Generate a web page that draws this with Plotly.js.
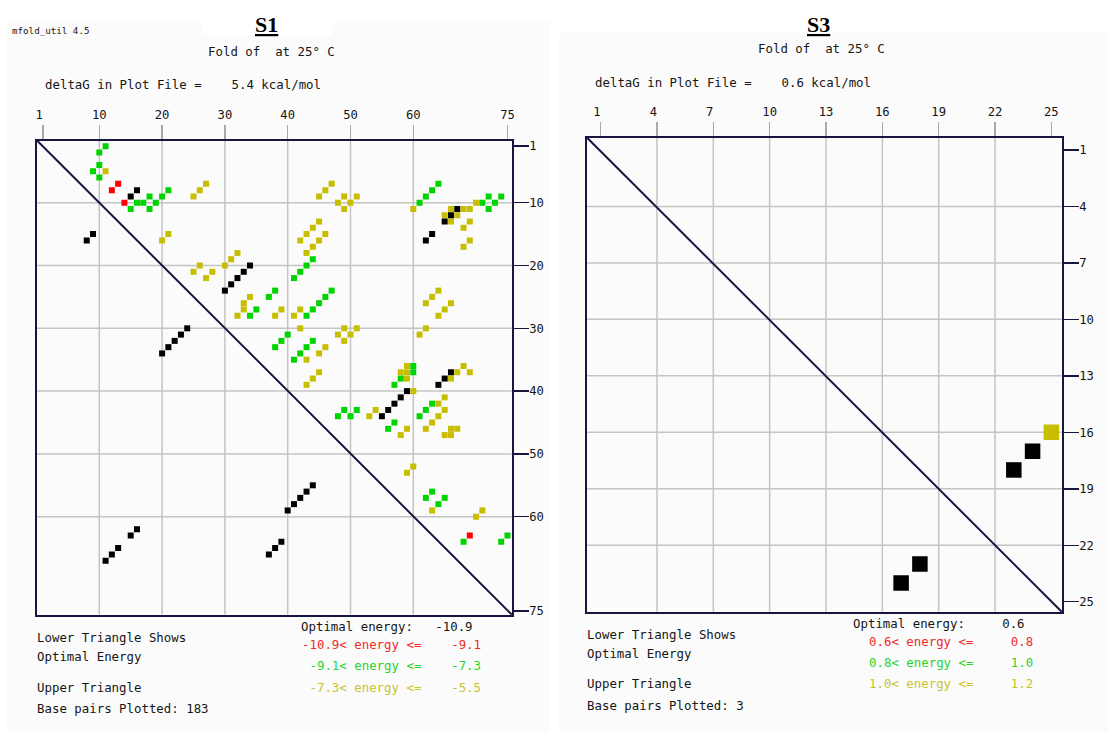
<!DOCTYPE html>
<html>
<head>
<meta charset="utf-8">
<script src="https://cdn.plot.ly/plotly-3.0.1.min.js"></script>
<style>html,body{margin:0;padding:0;background:#fff;}#plot{width:1114px;height:736px;}</style>
</head>
<body>
<div id="plot"></div>
<script>
// ---------- tick labels / grid positions ----------
const s1Ticks = [1, 10, 20, 30, 40, 50, 60, 75];
const s1Grid = [10, 20, 30, 40, 50, 60];
const s3Ticks = [1, 4, 7, 10, 13, 16, 19, 22, 25];
const s3Grid = [4, 7, 10, 13, 16, 19, 22];

// ---------- S1 base pairs (J = column / x, I = row / y) ----------
const s1OptUpperJ = [16,15,67,66,65,63,62,34,33,32,31,30,66,65,64,59,58,57,56,55];
const s1OptUpperI = [8,9,11,12,13,15,16,20,21,22,23,24,37,38,39,40,41,42,43,44];
const s1OptLowerJ = [9,8,24,23,22,21,20,44,43,42,41,40,16,15,13,12,11,39,38,37];
const s1OptLowerI = [15,16,30,31,32,33,34,55,56,57,58,59,62,63,65,66,67,64,65,66];
const s1RedJ = [13,12,14,69];
const s1RedI = [7,8,10,63];
const s1GreenJ = [11,10,10,9,10,16,17,18,19,20,21,15,18, 37,38,35,34, 44,43,42,41, 43,44,45,46,47, 64,63,62,61, 71,72,73,74,72, 40,39,38,44,43,42,41, 49,51,48,50, 60,60,58,57, 57,56, 63,62,61, 63,62,65,64, 68,75,74];
const s1GreenI = [1,2,4,5,6,10,10,9,10,9,8,11,11, 25,24,27,28, 19,20,21,22, 28,27,26,25,24, 7,8,9,10, 10,9,10,9,11, 31,32,33,32,33,34,35, 43,43,44,44, 36,37,38,39, 45,46, 42,43,44, 56,57,57,58, 64,63,64];
const s1YellowJ = [11, 27,26,25, 21,20, 32,31,30,26,25,28,27, 34,33,33,32, 38,39,41,42, 47,46,45,49,51,48,50,49, 45,44,43,42,46,45,44,43, 60,66,68,69,70, 65,67,66,69,68,69,68, 64,63,62,66,65,64, 42,49,51,48,50,49, 62,61, 46,45,43, 45,44,43, 59,58,59,59,60, 54,53, 59,58, 67,68,69,66, 65,64,65,64,63,62,66,67,65,66, 60,59, 63,71,70];
const s1YellowI = [5, 7,8,9, 15,16, 18,19,20,20,21,21,22, 25,26,27,28, 28,27,28,27, 7,8,9,9,9,10,10,11, 13,14,15,16,15,16,17,18, 11,11,11,11,10, 12,12,13,13,14,16,17, 24,25,26,26,27,28, 30,30,30,31,31,32, 30,31, 33,34,35, 37,38,39, 36,37,37,38,40, 43,44, 46,47, 37,36,37,38, 41,42,43,44,45,46,46,46,47,47, 52,53, 59,59,60];

// ---------- S3 base pairs ----------
const s3OptUpperJ = [24,23];
const s3OptUpperI = [17,18];
const s3OptLowerJ = [18,17];
const s3OptLowerI = [23,24];
const s3YellowJ = [25];
const s3YellowI = [16];

// ---------- styling ----------
const W = 1114, H = 736;
const MONO = 'DejaVu Sans Mono';
const NAVY = '#161640';
const C_BLACK = '#000000', C_RED = '#ff0000', C_GREEN = '#00d400', C_YELLOW = '#c8be00';
const T_RED = '#f02a2a', T_GREEN = '#2ad42a', T_YELLOW = '#c8c42a', T_DARK = '#151515';
const px = x => x / W;
const py = y => 1 - y / H;
const nb = s => s.replace(/ /g, '\u00a0');
// top labels are left-set like two-character fields
const topLabel = v => (v < 10 ? v + '\u00a0' : String(v));

function pts(xs, ys, color, size, xa, ya) {
  return {type: 'scatter', mode: 'markers', x: xs, y: ys, xaxis: xa, yaxis: ya,
    marker: {symbol: 'square', size: size, color: color, line: {width: 0}},
    hoverinfo: 'x+y', showlegend: false};
}

const traces = [
  pts(s1YellowJ, s1YellowI, C_YELLOW, 6, 'x', 'y'),
  pts(s1GreenJ, s1GreenI, C_GREEN, 6, 'x', 'y'),
  pts(s1RedJ, s1RedI, C_RED, 6, 'x', 'y'),
  pts(s1OptUpperJ, s1OptUpperI, C_BLACK, 6, 'x', 'y'),
  pts(s1OptLowerJ, s1OptLowerI, C_BLACK, 6, 'x', 'y'),
  pts(s3YellowJ, s3YellowI, C_YELLOW, 15.5, 'x2', 'y2'),
  pts(s3OptUpperJ, s3OptUpperI, C_BLACK, 15.5, 'x2', 'y2'),
  pts(s3OptLowerJ, s3OptLowerI, C_BLACK, 15.5, 'x2', 'y2')
];

function xAx(domain, range, ticks, anchor) {
  return {domain: domain, range: range, anchor: anchor, side: 'top',
    tickmode: 'array', tickvals: ticks, ticktext: ticks.map(topLabel),
    ticks: 'outside', ticklen: 14, tickwidth: 1.5, tickcolor: '#a8a8a8',
    ticklabelstandoff: 1,
    showgrid: false, zeroline: false, showline: true, mirror: true,
    linecolor: NAVY, linewidth: 2,
    tickfont: {family: MONO, size: 12.2, color: T_DARK}, fixedrange: true};
}
function yAx(domain, range, ticks, anchor) {
  return {domain: domain, range: range, anchor: anchor, side: 'right',
    tickmode: 'array', tickvals: ticks, ticktext: ticks.map(String),
    ticks: 'outside', ticklen: 15, tickwidth: 1.5, tickcolor: NAVY,
    ticklabelstandoff: -2,
    showgrid: false, zeroline: false, showline: true, mirror: true,
    linecolor: NAVY, linewidth: 2,
    tickfont: {family: MONO, size: 12.2, color: T_DARK}, fixedrange: true};
}

const shapes = [
  // panels
  {type: 'rect', xref: 'paper', yref: 'paper', x0: px(7), x1: px(549), y0: py(733), y1: py(22), fillcolor: '#fbfbfb', line: {width: 0}, layer: 'below'},
  {type: 'rect', xref: 'paper', yref: 'paper', x0: px(559), x1: px(1108), y0: py(733), y1: py(33), fillcolor: '#fbfbfb', line: {width: 0}, layer: 'below'},
  {type: 'rect', xref: 'paper', yref: 'paper', x0: px(203), x1: px(332), y0: py(35), y1: py(0), fillcolor: '#ffffff', line: {width: 0}, layer: 'below'}
];
function grid(vals, xa, ya) {
  vals.forEach(v => {
    shapes.push({type: 'line', xref: xa, yref: ya + ' domain', x0: v, x1: v, y0: 0, y1: 1, line: {color: '#c4c4c4', width: 1.5}, layer: 'below'});
    shapes.push({type: 'line', xref: xa + ' domain', yref: ya, x0: 0, x1: 1, y0: v, y1: v, line: {color: '#c4c4c4', width: 1.5}, layer: 'below'});
  });
}
grid(s1Grid, 'x', 'y');
grid(s3Grid, 'x2', 'y2');
shapes.push({type: 'line', xref: 'x domain', yref: 'y domain', x0: 0, y0: 1, x1: 1, y1: 0, line: {color: NAVY, width: 2}, layer: 'above'});
shapes.push({type: 'line', xref: 'x2 domain', yref: 'y2 domain', x0: 0, y0: 1, x1: 1, y1: 0, line: {color: NAVY, width: 2}, layer: 'above'});

const annotations = [];
const DX = -2.5; // annotation box padding compensation
function ann(text, x, y, color, size, family, anchor) {
  const a = anchor || 'left';
  annotations.push({text: text, xref: 'paper', yref: 'paper', x: px(a === 'left' ? x + DX : x), y: py(y),
    xanchor: a, yanchor: 'middle', showarrow: false,
    font: {family: family || MONO, size: size || 12.4, color: color || T_DARK}});
}
// S1 panel texts
ann(nb('mfold_util 4.5'), 12, 30, T_DARK, 9.2);
ann('<b><u>S1</u></b>', 266, 25, '#000', 22, 'Liberation Serif', 'center');
ann(nb('Fold of  at 25° C'), 208, 51);
ann(nb('deltaG in Plot File =    5.4 kcal/mol'), 45.5, 84.5);
ann(nb('Optimal energy:   -10.9'), 301.5, 626);
ann(nb('-10.9< energy <=    -9.1'), 302.5, 644, T_RED);
ann(nb(' -9.1< energy <=    -7.3'), 302.5, 665, T_GREEN);
ann(nb(' -7.3< energy <=    -5.5'), 302.5, 687, T_YELLOW);
ann(nb('Lower Triangle Shows'), 37.5, 637);
ann(nb('Optimal Energy'), 37.5, 656);
ann(nb('Upper Triangle'), 37.5, 687);
ann(nb('Base pairs Plotted: 183'), 37.5, 708.5);
// S3 panel texts
ann('<b><u>S3</u></b>', 818, 25, '#000', 22, 'Liberation Serif', 'center');
ann(nb('Fold of  at 25° C'), 758, 49);
ann(nb('deltaG in Plot File =    0.6 kcal/mol'), 595, 82);
ann(nb('Optimal energy:     0.6'), 853, 623.5);
ann(nb('0.6< energy <=     0.8'), 869, 641, T_RED);
ann(nb('0.8< energy <=     1.0'), 869, 662.5, T_GREEN);
ann(nb('1.0< energy <=     1.2'), 869, 683.5, T_YELLOW);
ann(nb('Lower Triangle Shows'), 588, 634.5);
ann(nb('Optimal Energy'), 588, 653.5);
ann(nb('Upper Triangle'), 588, 683.5);
ann(nb('Base pairs Plotted: 3'), 588, 705);

const layout = {
  width: W, height: H, margin: {l: 0, r: 0, t: 0, b: 0},
  paper_bgcolor: '#ffffff', plot_bgcolor: 'rgba(0,0,0,0)',
  showlegend: false,
  xaxis: xAx([px(37), px(511.7)], [0.08, 75.67], s1Ticks, 'y'),
  yaxis: yAx([py(614.5), py(140.5)], [75.57, 0.095], s1Ticks, 'x'),
  xaxis2: xAx([px(587.1), px(1061.7)], [0.28, 25.55], s3Ticks, 'y2'),
  yaxis2: yAx([py(611.7), py(137.7)], [25.53, 0.35], s3Ticks, 'x2'),
  shapes: shapes,
  annotations: annotations
};

Plotly.newPlot('plot', traces, layout, {displayModeBar: false, staticPlot: true});
</script>
</body>
</html>
